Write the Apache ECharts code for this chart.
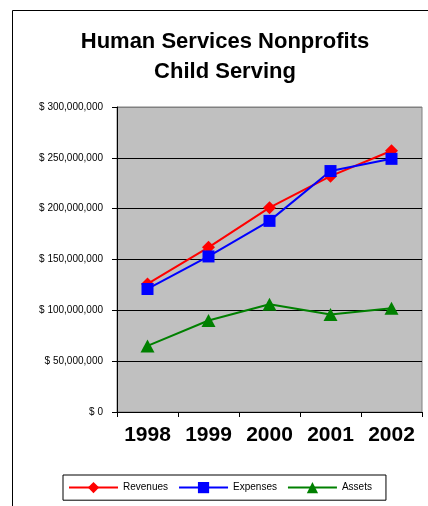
<!DOCTYPE html>
<html>
<head>
<meta charset="utf-8">
<script src="https://cdn.jsdelivr.net/npm/echarts@6/dist/echarts.min.js"></script>
<style>
html,body{margin:0;padding:0;background:#fff;}
#chart{width:428px;height:506px;}
</style>
</head>
<body>
<div id="chart"></div>
<script>
var years = ['1998', '1999', '2000', '2001', '2002'];
var revenues = [126000000, 162000000, 201000000, 232000000, 257000000];
var expenses = [121000000, 153000000, 188000000, 237000000, 249000000];
var assets = [65000000, 90000000, 106000000, 96000000, 102000000];
var titleText = 'Human Services Nonprofits\nChild Serving';

function money(v) {
  return '$ ' + String(v).replace(/\B(?=(\d{3})+(?!\d))/g, ',');
}

var chart = echarts.init(document.getElementById('chart'), null, {renderer: 'canvas'});
var font = 'Liberation Sans, Arial, sans-serif';
chart.setOption({
  animation: false,
  backgroundColor: '#fff',
  textStyle: {fontFamily: font},
  graphic: [{
    type: 'rect', z: -10, silent: true,
    shape: {x: 12.5, y: 10.5, width: 600, height: 600},
    style: {fill: 'none', stroke: '#000', lineWidth: 1}
  }],
  title: {
    text: titleText,
    left: 220, top: 22, textAlign: 'center',
    textStyle: {fontFamily: font, fontSize: 22, fontWeight: 'bold', color: '#000', lineHeight: 30}
  },
  grid: {
    left: 117, right: 6, top: 107, bottom: 94,
    show: true, backgroundColor: '#c0c0c0', borderColor: '#808080', borderWidth: 1
  },
  legend: {
    left: 63, top: 475,
    padding: [7, 14, 7, 5],
    itemGap: 10, itemWidth: 49, itemHeight: 14,
    borderColor: '#000', borderWidth: 1,
    textStyle: {fontFamily: font, fontSize: 10, color: '#000'},
    data: ['Revenues', 'Expenses', 'Assets']
  },
  xAxis: {
    type: 'category', data: years, boundaryGap: true,
    axisLine: {lineStyle: {color: '#000', width: 1}},
    axisTick: {show: true, length: 5, lineStyle: {color: '#000'}},
    axisLabel: {fontFamily: font, fontSize: 21, fontWeight: 'bold', color: '#000', margin: 13}
  },
  yAxis: {
    type: 'value', min: 0, max: 300000000, interval: 50000000,
    axisLine: {show: true, lineStyle: {color: '#000', width: 1}},
    axisTick: {show: true, length: 5, lineStyle: {color: '#000'}},
    axisLabel: {fontFamily: font, fontSize: 10, color: '#000', margin: 14, formatter: money},
    splitLine: {show: true, lineStyle: {color: ['#000', '#000', '#000', '#000', '#000', '#000', '#808080'], width: 1}}
  },
  series: [
    {name: 'Revenues', type: 'line', data: revenues, symbol: 'diamond', symbolSize: 13,
     lineStyle: {color: '#ff0000', width: 2}, itemStyle: {color: '#ff0000'}},
    {name: 'Expenses', type: 'line', data: expenses, symbol: 'rect', symbolSize: 12,
     lineStyle: {color: '#0000ff', width: 2}, itemStyle: {color: '#0000ff'}},
    {name: 'Assets', type: 'line', data: assets, symbol: 'triangle', symbolSize: [14, 13],
     lineStyle: {color: '#008000', width: 2}, itemStyle: {color: '#008000'}}
  ]
});
</script>
</body>
</html>
